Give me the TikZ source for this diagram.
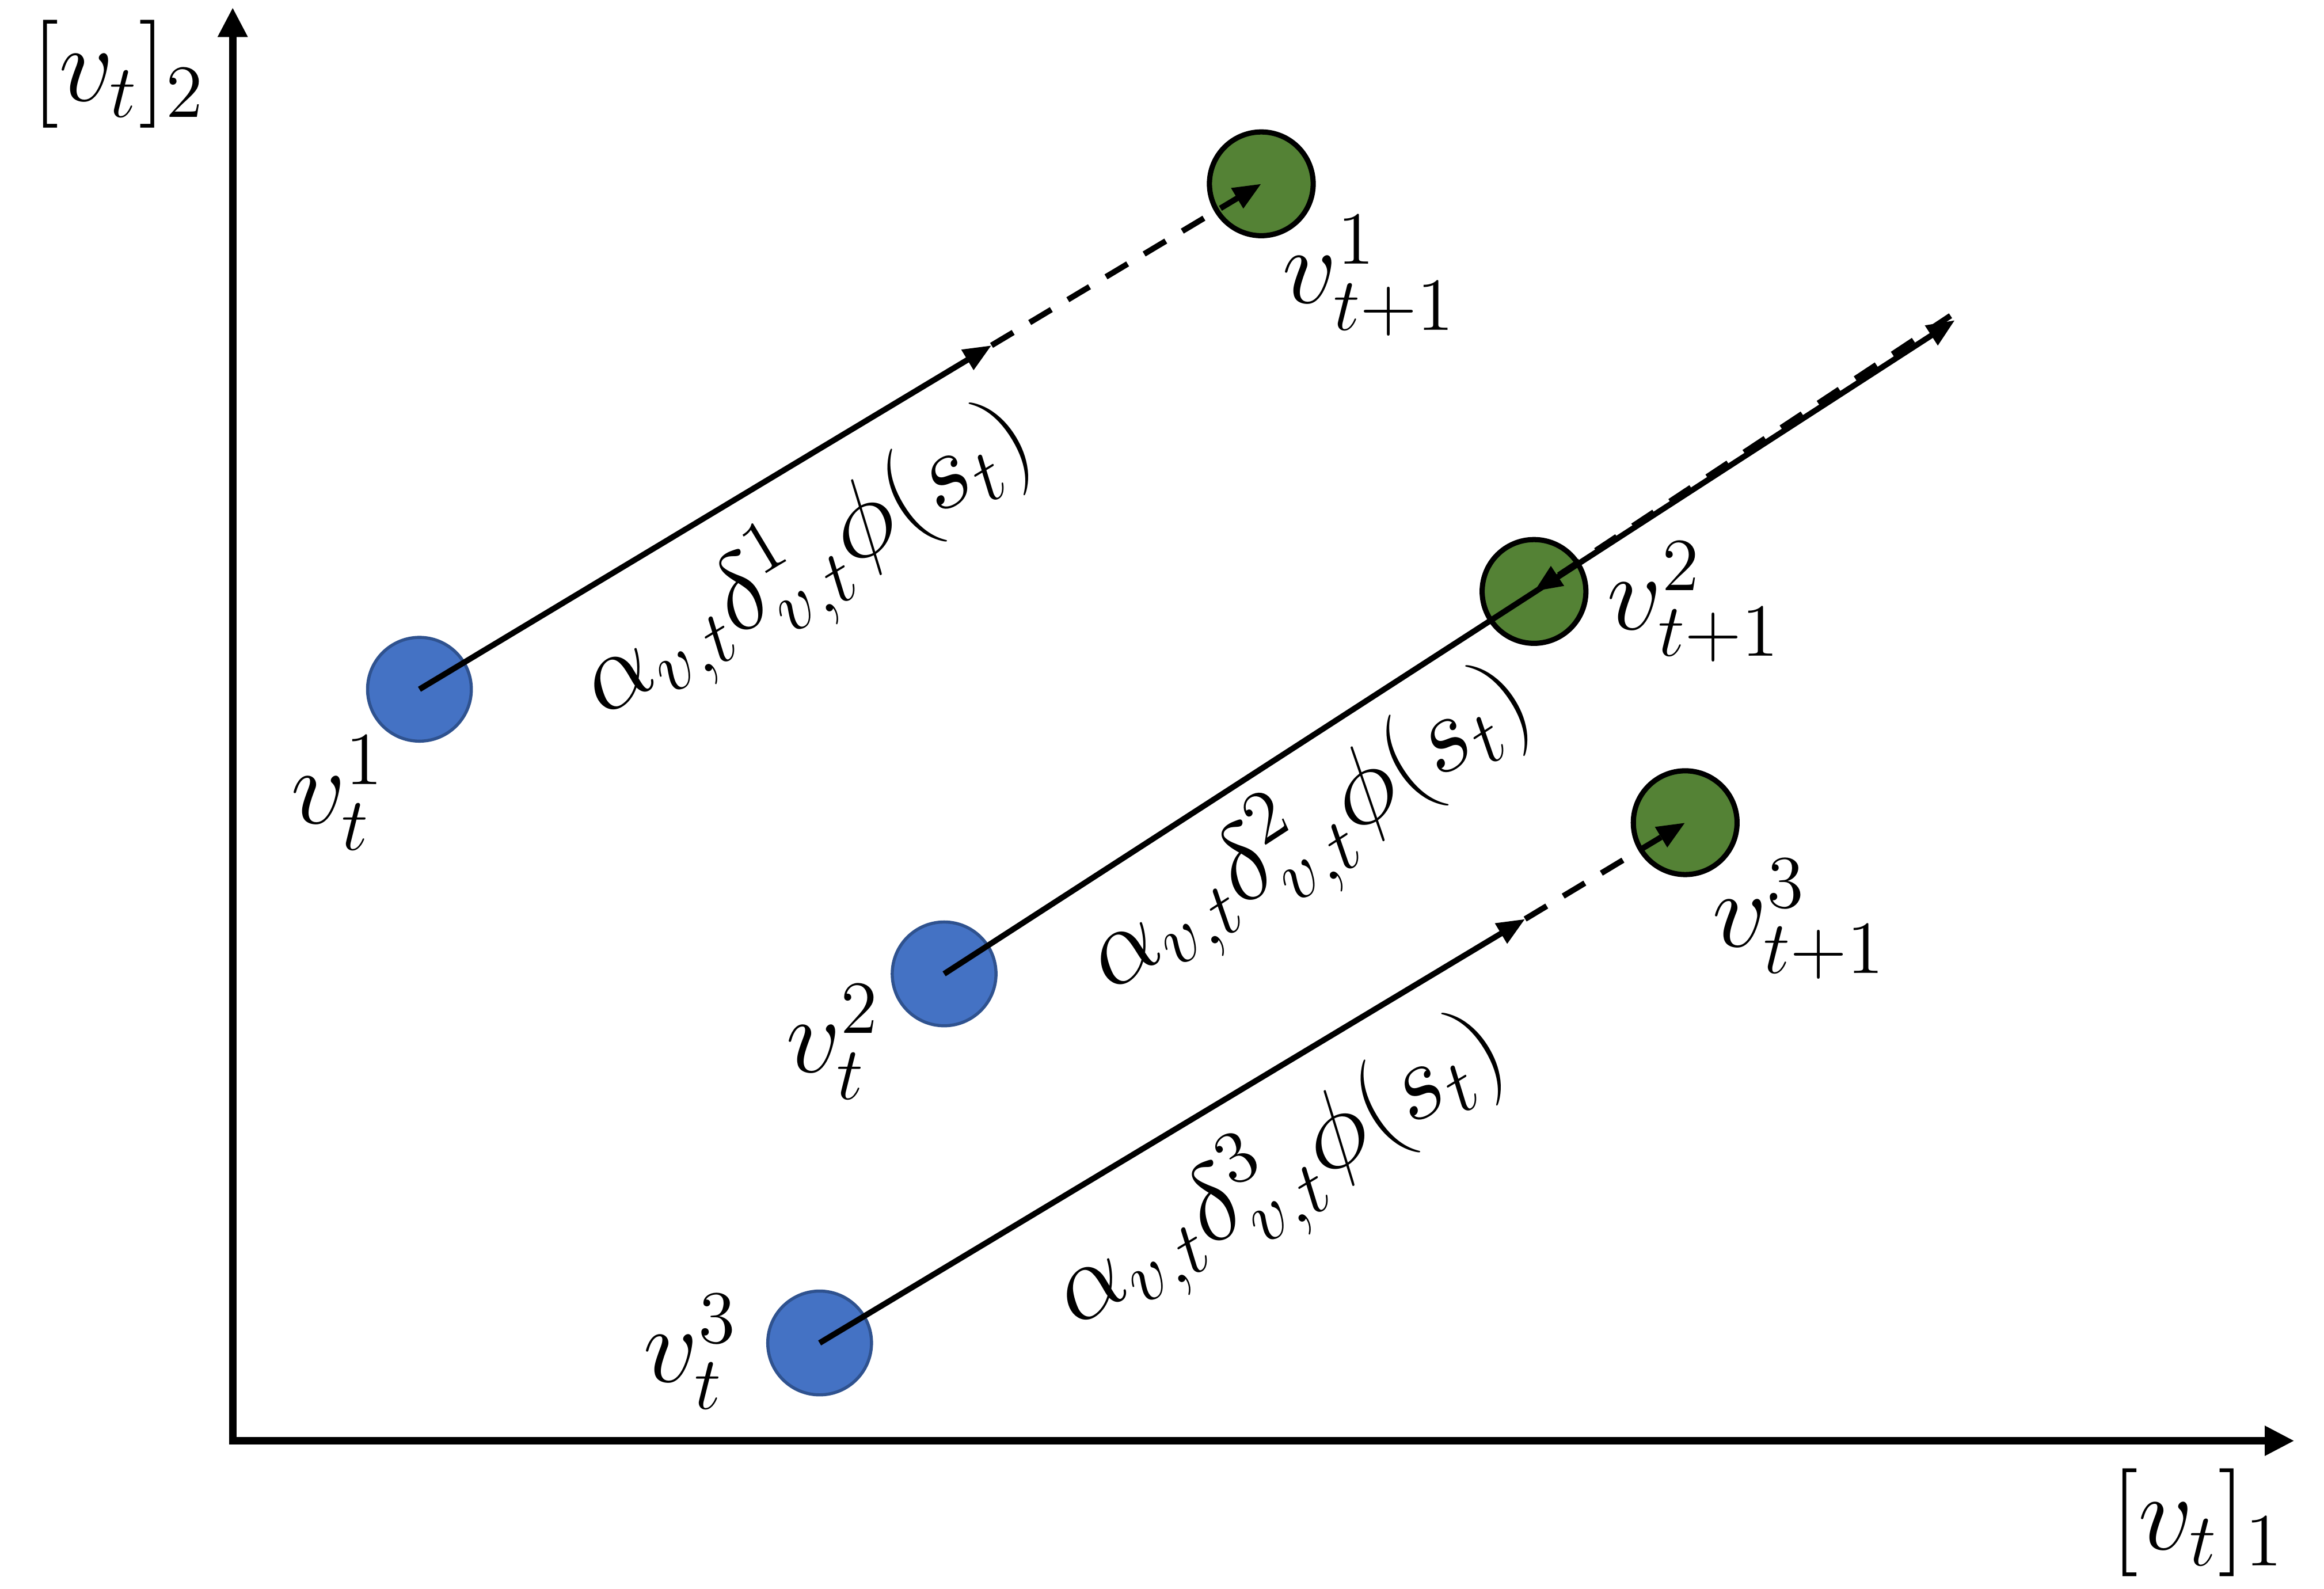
\documentclass[tikz,border=0pt]{standalone}
\usetikzlibrary{arrows.meta}
\definecolor{bluefill}{HTML}{4472C4}
\definecolor{blueedge}{HTML}{2F528F}
\definecolor{greenfill}{HTML}{548235}
\begin{document}
\begin{tikzpicture}[x=0.1mm,y=-0.1mm,
  axis/.style={line width=1.4pt,-{Triangle[length=0.2cm,width=0.19cm]}},
  vec/.style={line width=1.1pt,-{Triangle[length=0.19cm,width=0.15cm]}},
  dvec/.style={vec,dash pattern=on 0.17cm off 0.13cm},
  oldpt/.style={circle,minimum size=0.7cm,inner sep=0pt,fill=bluefill,draw=blueedge,line width=0.6pt},
  newpt/.style={circle,minimum size=0.7cm,inner sep=0pt,fill=greenfill,draw=black,line width=1pt},
  lab/.style={font=\fontsize{19.5}{23}\selectfont,inner sep=0pt},
  updlab/.style={font=\fontsize{21.5}{25}\selectfont,inner sep=0pt},
  axlab/.style={font=\fontsize{21.5}{25}\selectfont,inner sep=0pt}]
\useasboundingbox (0,0) rectangle (1568,1072);
% axes
\coordinate (O) at (157,972);
\coordinate (Ytop) at (157,5);
\coordinate (Xend) at (1548,972);
\draw[axis] ([yshift=-0.7pt]O) -- (Ytop);
\draw[axis] ([xshift=-0.7pt]O) -- (Xend);
\node[axlab] (ylab) at (80,50) {$[v_t]_2$};
\node[axlab] (xlab) at (1483,1027) {$[v_t]_1$};
% points
\node[oldpt] (b1) at (283,465) {};
\node[oldpt] (b2) at (637,657) {};
\node[oldpt] (b3) at (553,906) {};
\node[newpt] (g1) at (851,124) {};
\node[newpt] (g2) at (1035,399) {};
\node[newpt] (g3) at (1137,555) {};
% intermediate tips
\coordinate (m1) at (669,233);
\coordinate (m2) at (1319,216);
\coordinate (m2d) at (1316,213);
\coordinate (m3) at (1029,620);
% vectors
\draw[vec] (b1.center) -- (m1);
\draw[dvec] (m1) -- (g1.center);
\draw[vec] (b2.center) -- (m2);
\draw[dvec] (m2d) -- (g2.center);
\draw[vec] (b3.center) -- (m3);
\draw[dvec] (m3) -- (g3.center);
% point labels
\node[lab] (lb1) at (228,535) {$v_t^1$};
\node[lab] (lb2) at (562,703) {$v_t^2$};
\node[lab] (lb3) at (466,912) {$v_t^3$};
\node[lab] (lg1) at (924,186) {$v_{t+1}^1$};
\node[lab] (lg2) at (1143,406) {$v_{t+1}^2$};
\node[lab] (lg3) at (1214,620) {$v_{t+1}^3$};
% update labels
\node[updlab,rotate=31] (u1) at (546,382) {$\alpha_{v,t}\delta_{v,t}^1\phi(s_t)$};
\node[updlab,rotate=33] (u2) at (885,563) {$\alpha_{v,t}\delta_{v,t}^2\phi(s_t)$};
\node[updlab,rotate=31] (u3) at (865,794) {$\alpha_{v,t}\delta_{v,t}^3\phi(s_t)$};
\end{tikzpicture}
\end{document}
